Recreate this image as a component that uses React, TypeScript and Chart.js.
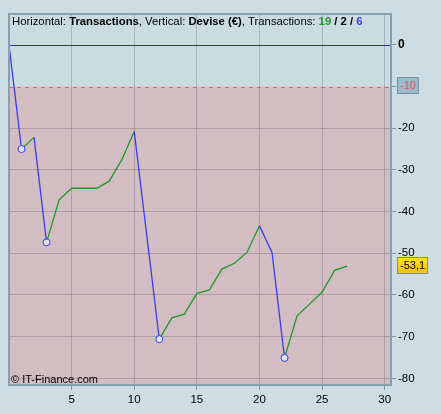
import React, { useEffect, useRef } from 'react';
import { Chart, registerables } from 'chart.js';

Chart.register(...registerables);

// ---- data ----
const tradeNumbers = [0, 1, 2, 3, 4, 5, 6, 7, 8, 9, 10, 11, 12, 13, 14, 15, 16, 17, 18, 19, 20, 21, 22, 23, 24, 25, 26, 27];
const equity = [0, -25.0, -22.2, -47.4, -37.2, -34.4, -34.4, -34.4, -32.7, -27.6, -20.8, -45.7, -70.6, -65.5, -64.6, -59.6, -58.8, -53.8, -52.4, -49.8, -43.4, -49.8, -75.1, -65.0, -62.2, -59.3, -54.1, -53.1];
const xTickValues = [5, 10, 15, 20, 25, 30];
const yTickValues = [0, -10, -20, -30, -40, -50, -60, -70, -80];
const thresholdLevel = -10;
const xLabel = 'Transactions';
const yLabel = 'Devise (€)';
const copyright = '© IT-Finance.com';

const X_MIN = 0;
const X_MAX = 30.5;
const Y_MIN = -81.6;
const Y_MAX = 7.4;

// ---- styles ----
const FONT = '"Liberation Sans", Arial, sans-serif';
const PAGE_BG = '#cddde3';
const PLOT_BG = '#cadbe2';
const LOSS_BG = '#d2bdc2';
const GRID = 'rgba(90, 80, 95, 0.28)';
const BORDER = '#87a0ad';
const UP = '#23962a';
const DOWN = '#3b3bef';

const W = 441;
const H = 414;

function fmt(v: number) {
  return v.toFixed(1).replace('.', ',');
}

const decor = {
  id: 'decor',
  beforeDraw(chart: any) {
    const { ctx, chartArea: a, scales } = chart;
    const y = scales.y;
    ctx.save();
    ctx.fillStyle = PAGE_BG;
    ctx.fillRect(0, 0, chart.width, chart.height);
    const yt = y.getPixelForValue(thresholdLevel);
    ctx.fillStyle = PLOT_BG;
    ctx.fillRect(a.left, a.top, a.right - a.left, yt - a.top);
    ctx.fillStyle = LOSS_BG;
    ctx.fillRect(a.left, yt, a.right - a.left, a.bottom - yt);
    ctx.restore();
  },
  beforeDatasetsDraw(chart: any) {
    const { ctx, chartArea: a, scales } = chart;
    const y = scales.y;
    ctx.save();
    const yt = Math.round(y.getPixelForValue(thresholdLevel)) + 0.5;
    ctx.strokeStyle = '#e0606c';
    ctx.lineWidth = 1;
    ctx.setLineDash([4, 4]);
    ctx.beginPath();
    ctx.moveTo(a.left, yt);
    ctx.lineTo(a.right, yt);
    ctx.stroke();
    ctx.setLineDash([]);
    const y0 = Math.round(y.getPixelForValue(0)) + 0.5;
    ctx.strokeStyle = '#2a2ad0';
    ctx.lineWidth = 1.2;
    ctx.beginPath();
    ctx.moveTo(a.left, y0);
    ctx.lineTo(a.right, y0);
    ctx.stroke();
    ctx.restore();
  },
  afterDatasetsDraw(chart: any) {
    const { ctx, chartArea: a } = chart;
    ctx.save();
    // border
    ctx.strokeStyle = BORDER;
    ctx.lineWidth = 2;
    ctx.strokeRect(a.left, a.top, a.right - a.left, a.bottom - a.top);

    // title
    let wins = 0, flats = 0, losses = 0;
    for (let i = 1; i < equity.length; i++) {
      if (equity[i] > equity[i - 1]) wins++;
      else if (equity[i] < equity[i - 1]) losses++;
      else flats++;
    }
    const parts: [string, boolean, string][] = [
      ['Horizontal: ', false, '#000'],
      [xLabel, true, '#000'],
      [', Vertical: ', false, '#000'],
      [yLabel, true, '#000'],
      [', Transactions: ', false, '#000'],
      [String(wins), true, '#1f9a1f'],
      [' / ', true, '#000'],
      [String(flats), true, '#000'],
      [' / ', true, '#000'],
      [String(losses), true, '#3a3aff'],
    ];
    let x = a.left + 3;
    ctx.textBaseline = 'alphabetic';
    ctx.textAlign = 'left';
    for (const [t, b, c] of parts) {
      ctx.font = `${b ? 'bold ' : ''}11.3px ${FONT}`;
      ctx.fillStyle = c;
      ctx.fillText(t, x, a.top + 11);
      x += ctx.measureText(t).width;
    }

    // copyright
    ctx.font = `11px ${FONT}`;
    ctx.fillStyle = '#000';
    ctx.fillText(copyright, a.left + 2, a.bottom - 2.5);
    ctx.restore();
  },
  afterDraw(chart: any) {
    const { ctx, chartArea: a, scales } = chart;
    const y = scales.y;
    ctx.save();
    ctx.font = `11px ${FONT}`;
    ctx.textBaseline = 'middle';
    ctx.textAlign = 'left';
    // threshold box
    const yt = y.getPixelForValue(thresholdLevel) - 1.5;
    const tText = String(thresholdLevel);
    const tw = ctx.measureText(tText).width;
    const bx = 397.5;
    ctx.fillStyle = '#9dbac8';
    ctx.fillRect(bx, yt - 8, tw + 5, 16);
    ctx.strokeStyle = '#7690a0';
    ctx.lineWidth = 1;
    ctx.strokeRect(bx, Math.round(yt - 8) + 0.5, tw + 5, 16);
    ctx.fillStyle = '#e4505c';
    ctx.fillText(tText, bx + 2.5, yt + 1);

    // last value box
    const last = equity[equity.length - 1];
    const yl = y.getPixelForValue(last) - 1.5;
    const lText = fmt(last);
    const lw = ctx.measureText(lText).width;
    const g = ctx.createLinearGradient(0, yl - 8, 0, yl + 8);
    g.addColorStop(0, '#ffe21a');
    g.addColorStop(1, '#f2c200');
    ctx.fillStyle = g;
    ctx.fillRect(bx, yl - 8, lw + 5, 16);
    ctx.strokeStyle = '#8a8a70';
    ctx.strokeRect(bx, Math.round(yl - 8) + 0.5, lw + 5, 16);
    ctx.fillStyle = '#000';
    ctx.fillText(lText, bx + 2.5, yl + 1);
    ctx.restore();
  },
};

export default function App() {
  const ref = useRef<HTMLCanvasElement>(null);

  useEffect(() => {
    if (!ref.current) return;
    const isLow = equity.map((v, i) => i > 0 && v < Math.min(...equity.slice(0, i)));
    const chart = new Chart(ref.current, {
      type: 'line',
      data: {
        datasets: [
          {
            data: tradeNumbers.map((t, i) => ({ x: t, y: equity[i] })),
            borderWidth: 1.3,
            borderColor: UP,
            segment: {
              borderColor: (c: any) => (c.p1.parsed.y < c.p0.parsed.y ? DOWN : UP),
            },
            pointRadius: (c: any) => (isLow[c.dataIndex] ? 3.5 : 0),
            pointBackgroundColor: '#dce8ff',
            pointBorderColor: '#3b3bef',
            pointBorderWidth: 1,
            tension: 0,
            fill: false,
          },
        ],
      },
      options: {
        responsive: false,
        animation: false,
        devicePixelRatio: 1,
        events: [],
        layout: { padding: { left: 9, top: 14, right: 0, bottom: 0 } },
        plugins: { legend: { display: false }, tooltip: { enabled: false }, title: { display: false } },
        scales: {
          x: {
            type: 'linear',
            min: X_MIN,
            max: X_MAX,
            afterBuildTicks: (s: any) => {
              s.ticks = xTickValues.map((v) => ({ value: v }));
            },
            afterFit: (s: any) => {
              s.height = H - 385;
            },
            border: { display: false },
            grid: { color: GRID, tickColor: '#7f96a3', tickLength: 5, lineWidth: 1 },
            ticks: {
              padding: 3,
              color: '#000',
              font: { family: FONT, size: 11.5 },
              maxRotation: 0,
              callback: (v: any) => String(v),
            },
          },
          y: {
            type: 'linear',
            position: 'right',
            min: Y_MIN,
            max: Y_MAX,
            afterBuildTicks: (s: any) => {
              s.ticks = yTickValues.map((v) => ({ value: v }));
            },
            afterFit: (s: any) => {
              s.width = W - 391;
            },
            border: { display: false },
            grid: {
              color: (c: any) => (c.tick && (c.tick.value === 0 || c.tick.value === thresholdLevel) ? 'rgba(0,0,0,0)' : GRID),
              tickColor: '#7f96a3',
              tickLength: 5,
              lineWidth: 1,
            },
            ticks: {
              padding: 2,
              color: '#000',
              font: (c: any) => ({ family: FONT, size: c.tick && c.tick.value === 0 ? 12 : 11.5, weight: c.tick && c.tick.value === 0 ? 'bold' : 'normal' }),
              callback: (v: any) => (v === thresholdLevel ? '' : String(v)),
            },
          },
        },
      },
      plugins: [decor],
    });
    return () => chart.destroy();
  }, []);

  return (
    <div style={{ position: 'fixed', left: 0, top: 0, width: W, height: H, background: PAGE_BG }}>
      <canvas ref={ref} width={W} height={H} style={{ width: W, height: H, display: 'block' }} />
    </div>
  );
}
